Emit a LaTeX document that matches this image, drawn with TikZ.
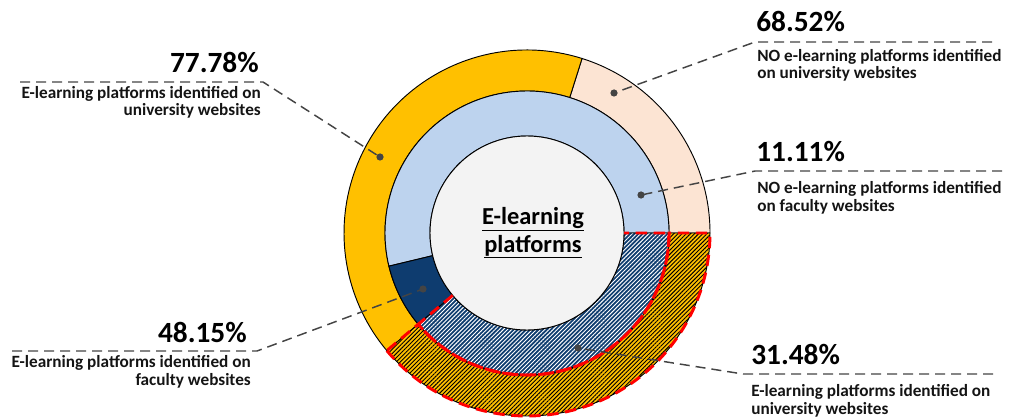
\documentclass[tikz,border=0pt]{standalone}
\usepackage{fontspec}
\setmainfont{Carlito}
\usetikzlibrary{patterns.meta}
\definecolor{gold}{HTML}{FFC000}
\definecolor{peach}{HTML}{FCE4D3}
\definecolor{lblue}{HTML}{BDD3EE}
\definecolor{dblue}{HTML}{0E3C6F}
\definecolor{core}{HTML}{F3F3F3}
\definecolor{leadc}{HTML}{444444}
\definecolor{txt}{HTML}{141414}
\newcommand{\annseg}[4]{(#3:#2) arc[start angle=#3,end angle=#4,radius=#2] -- (#4:#1) arc[start angle=#4,end angle=#3,radius=#1] -- cycle}
\tikzset{
  segline/.style={draw=black,line width=0.7pt},
  reddash/.style={draw=red,line width=2.2pt,dash pattern=on 8.5pt off 5pt},
  lead/.style={draw=leadc,line width=1.1pt,dash pattern=on 7.5pt off 4.5pt},
  dotmark/.style={fill=leadc},
  bignum/.style={inner sep=0pt,text=black,font=\fontsize{22pt}{26pt}\selectfont\bfseries},
  desc/.style={inner sep=0pt,text=txt,font=\fontsize{12.9pt}{13.4pt}\selectfont\bfseries},
}
\begin{document}
\begin{tikzpicture}[x=0.75pt,y=0.75pt]
\useasboundingbox (0,0) rectangle (1012,418);
\coordinate (c) at (527,185);
\begin{scope}[shift={(c)}]
  % outer ring
  \path[segline,fill=peach] \annseg{142}{183}{0}{72.5};
  \path[segline,fill=gold] \annseg{142}{183}{72.5}{220};
  % inner ring
  \path[segline,fill=lblue] \annseg{97}{142}{0}{193.5};
  \path[segline,fill=dblue] \annseg{97}{142}{193.5}{220};
  % hatched parts
  \path[segline,preaction={fill=gold},pattern={Lines[angle=45,distance=2.2pt,line width=0.7pt]},pattern color=black] \annseg{142}{183}{220}{360};
  \path[segline,preaction={fill=dblue},pattern={Lines[angle=45,distance=2.2pt,line width=0.7pt]},pattern color=white] \annseg{97}{142}{220}{360};
  % core
  \path[segline,fill=core] (0,0) circle[radius=97];
  % red dashed outlines
  \path[reddash] \annseg{142}{183}{220}{360};
  \path[reddash] (220:97) -- (220:142) arc[start angle=220,end angle=360,radius=142] -- (0:97);
\end{scope}
\node[inner sep=0pt,align=center,anchor=base,text=black,font=\fontsize{18.3pt}{21pt}\selectfont\bfseries] (title) at (533,166) {\underline{E-learning}\\\underline{platforms}};
% labels (base anchor = baseline of last line)
\node[bignum,anchor=base east] (n7778) at (259,345) {77.78\%};
\node[desc,anchor=base east,align=right] (t7778) at (261,302) {E-learning platforms identified on\\university websites};
\node[bignum,anchor=base west] (n6852) at (756,386) {68.52\%};
\node[desc,anchor=base west,align=left] (t6852) at (757,339) {NO e-learning platforms identified\\on university websites};
\node[bignum,anchor=base west] (n1111) at (756,256) {11.11\%};
\node[desc,anchor=base west,align=left] (t1111) at (757,207) {NO e-learning platforms identified\\on faculty websites};
\node[bignum,anchor=base east] (n4815) at (247,76) {48.15\%};
\node[desc,anchor=base east,align=right] (t4815) at (251,33) {E-learning platforms identified on\\faculty websites};
\node[bignum,anchor=base west] (n3148) at (751,54) {31.48\%};
\node[desc,anchor=base west,align=left] (t3148) at (751,4) {E-learning platforms identified on\\university websites};
% leader coordinates
\coordinate (s1) at (20,336);  \coordinate (k1) at (263,336);  \coordinate (d1) at (380,261);
\coordinate (s2) at (992,376); \coordinate (k2) at (755,376);  \coordinate (d2) at (614,325);
\coordinate (s3) at (1002,247);\coordinate (k3) at (755,247);  \coordinate (d3) at (641,223);
\coordinate (s4) at (12,67);   \coordinate (k4) at (257,67);   \coordinate (d4) at (423,129);
\coordinate (s5) at (993,44);  \coordinate (k5) at (743,44);   \coordinate (d5) at (578,70);
\foreach \i in {1,...,5}{
  \draw[lead] (s\i) -- (k\i) -- (d\i);
  \fill[dotmark] (d\i) circle[radius=3.6];
}
\end{tikzpicture}
\end{document}
